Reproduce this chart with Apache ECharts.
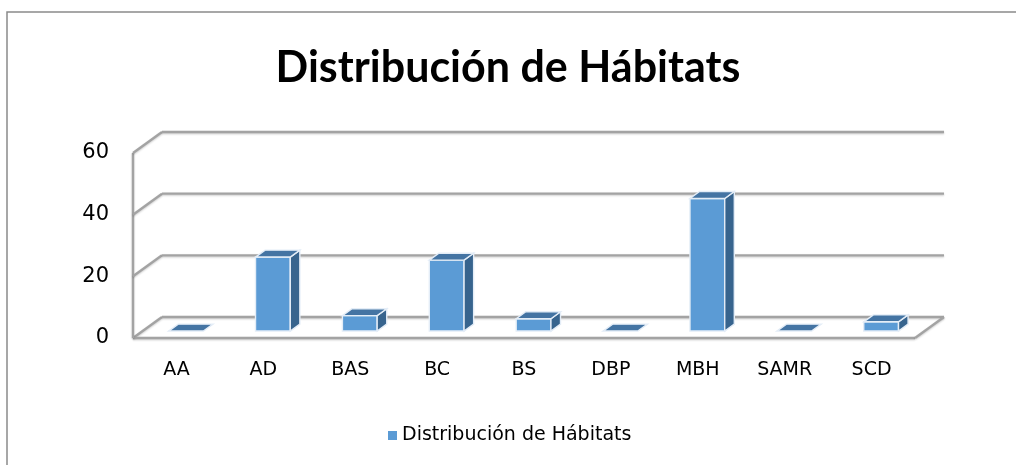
<!DOCTYPE html>
<html>
  <head>
    <meta charset="utf-8">
    <title>ECharts</title>
    <script src="https://cdn.jsdelivr.net/npm/echarts@6/dist/echarts.min.js"></script>
  </head>
  <body style="margin:0;">
    <div id="main" style="width:1016px;height:465px;"></div>
    <script type="text/javascript">
      // datos
      var categorias = ['AA', 'AD', 'BAS', 'BC', 'BS', 'DBP', 'MBH', 'SAMR', 'SCD'];
      var valores = [0, 24, 5, 23, 4, 0, 43, 0, 3];
      var ticksY = [0, 20, 40, 60];
      var nombreSerie = 'Distribución de Hábitats';

      // profundidad del efecto 3D (px)
      var DX = 29, DY = -21;

      var myChart = echarts.init(document.getElementById('main'));

      function renderParedes(params, api) {
        var cs = params.coordSys;
        var v = api.value(1);
        var y = api.coord([0, v])[1];
        var izq = cs.x, der = cs.x + cs.width;
        var st = {stroke: '#a3a3a3', lineWidth: 2.4, shadowBlur: 2, shadowColor: 'rgba(0,0,0,0.2)', shadowOffsetY: 1};
        var hijos = [
          {type: 'line', shape: {x1: izq, y1: y, x2: izq + DX, y2: y + DY}, style: st},
          {type: 'line', shape: {x1: izq + DX, y1: y + DY, x2: der + DX, y2: y + DY}, style: st}
        ];
        if (v === ticksY[0]) {
          var yTop = api.coord([0, ticksY[ticksY.length - 1]])[1];
          hijos.push({type: 'line', shape: {x1: izq, y1: y, x2: der, y2: y}, style: st});
          hijos.push({type: 'line', shape: {x1: der, y1: y, x2: der + DX, y2: y + DY}, style: st});
          hijos.push({type: 'line', shape: {x1: izq, y1: y, x2: izq, y2: yTop}, style: st});
        }
        return {type: 'group', children: hijos};
      }

      function renderBarra(params, api) {
        var i = api.value(0), v = api.value(1);
        var banda = api.size([1, 0])[0];
        var w = banda * 0.4;
        var base = api.coord([i, 0]);
        var tope = api.coord([i, v]);
        var f1 = 0.33, f2 = 0.66;
        var x0 = base[0] - w / 2 + DX * f1, x1 = x0 + w;
        var yb = base[1] + DY * f1, yt = tope[1] + DY * f1;
        var ddx = DX * (f2 - f1), ddy = DY * (f2 - f1);
        var borde = '#e4edf7';
        var hijos = [];
        if (v > 0) {
          hijos.push({type: 'polygon', shape: {points: [[x0, yt], [x1, yt], [x1, yb], [x0, yb]]},
            style: {fill: '#5b9bd5', stroke: borde, lineWidth: 1.4}});
          hijos.push({type: 'polygon', shape: {points: [[x1, yb], [x1 + ddx, yb + ddy], [x1 + ddx, yt + ddy], [x1, yt]]},
            style: {fill: '#37648e', stroke: borde, lineWidth: 1.4}});
        }
        hijos.push({type: 'polygon', shape: {points: [[x0, yt], [x1, yt], [x1 + ddx, yt + ddy], [x0 + ddx, yt + ddy]]},
          style: {fill: '#4474a3', stroke: borde, lineWidth: 1.4}});
        return {type: 'group', children: hijos};
      }

      var option = {
        animation: false,
        title: {
          text: 'Distribución de Hábitats',
          left: 'center',
          top: 42,
          textStyle: {fontFamily: 'Liberation Sans Narrow, Lato', fontWeight: 'bold', fontSize: 43, color: '#000'}
        },
        legend: {
          data: [nombreSerie],
          left: 383,
          top: 421,
          icon: 'rect',
          itemWidth: 9,
          itemHeight: 9,
          itemGap: 6,
          textStyle: {fontFamily: 'DejaVu Sans', fontSize: 19, color: '#000'}
        },
        graphic: [{
          type: 'rect',
          shape: {x: 7, y: 12, width: 1100, height: 600},
          style: {fill: 'none', stroke: '#8a8a8a', lineWidth: 1.5},
          silent: true
        }],
        grid: {left: 133, right: 101, top: 153, bottom: 127},
        xAxis: {
          type: 'category',
          data: categorias,
          axisLine: {show: false},
          axisTick: {show: false},
          axisLabel: {margin: 23, fontFamily: 'DejaVu Sans', fontSize: 19, color: '#000'}
        },
        yAxis: {
          type: 'value',
          min: 0,
          max: 60,
          interval: 20,
          axisLine: {show: false},
          splitLine: {show: false},
          axisLabel: {margin: 24, padding: [8, 0, 0, 0], fontFamily: 'DejaVu Sans', fontSize: 21, color: '#000'}
        },
        series: [{
          name: 'paredes',
          type: 'custom',
          silent: true,
          renderItem: renderParedes,
          data: ticksY.map(function(v) { return [0, v]; }),
          z: 1
        }, {
          name: nombreSerie,
          type: 'custom',
          renderItem: renderBarra,
          itemStyle: {color: '#5b9bd5'},
          data: valores.map(function(v, i) { return [i, v]; }),
          z: 2
        }]
      };
      myChart.setOption(option);
    </script>
  </body>
</html>
